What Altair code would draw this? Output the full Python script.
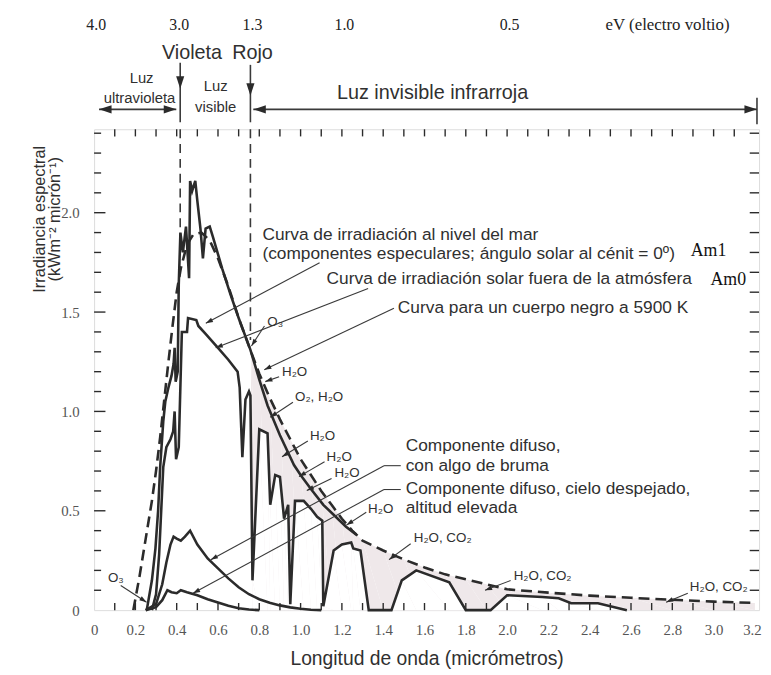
import math
import altair as alt
import pandas as pd

INK = "#2b2b2b"
TXT = "#303030"
SANS = "Liberation Sans, Arial, sans-serif"
SERIF = "Liberation Serif, Times New Roman, serif"

# ---------------- data ----------------
# black body at 5900 K (dashed)
bb_x = [0.19, 0.22, 0.25, 0.28, 0.30, 0.32, 0.34, 0.36, 0.38, 0.40, 0.42, 0.45, 0.48, 0.52, 0.56,
        0.60, 0.65, 0.70, 0.76, 0.80, 0.85, 0.90, 0.95, 1.00, 1.05, 1.10, 1.15, 1.20, 1.25, 1.30,
        1.40, 1.50, 1.60, 1.70, 1.80, 1.90, 2.00, 2.20, 2.40, 2.60, 2.80, 3.00, 3.20]
bb_y = [0.0, 0.17, 0.36, 0.55, 0.70, 0.87, 1.06, 1.25, 1.43, 1.60, 1.72, 1.84, 1.89, 1.90, 1.86,
        1.77, 1.63, 1.47, 1.30, 1.19, 1.07, 0.96, 0.86, 0.76, 0.68, 0.60, 0.53, 0.46, 0.40, 0.35,
        0.30, 0.255, 0.215, 0.18, 0.155, 0.13, 0.105, 0.088, 0.073, 0.062, 0.052, 0.043, 0.036]
# irradiance outside the atmosphere (Am0)
am0_x = [0.255, 0.28, 0.297, 0.31, 0.32, 0.335, 0.345, 0.36, 0.375, 0.385, 0.39, 0.395, 0.405, 0.41,
         0.418, 0.43, 0.445, 0.46, 0.465, 0.475, 0.49, 0.50, 0.515, 0.527, 0.54, 0.56, 0.575, 0.62,
         0.66, 0.70, 0.757, 0.80, 0.84, 0.90, 0.968, 1.00, 1.05, 1.11, 1.16, 1.22, 1.27]
am0_y = [0.0, 0.15, 0.31, 0.50, 0.72, 0.95, 1.05, 1.12, 1.18, 1.24, 1.32, 1.15, 1.20, 1.64,
         1.90, 1.80, 1.93, 1.67, 2.16, 2.11, 2.16, 2.06, 1.92, 1.77, 1.92, 1.93, 1.88, 1.72,
         1.59, 1.47, 1.31, 1.16, 1.03, 0.88, 0.73, 0.68, 0.61, 0.53, 0.48, 0.42, 0.38]
# irradiance at sea level (Am1)
am1_x = [0.28, 0.30, 0.315, 0.325, 0.335, 0.35, 0.37, 0.383, 0.39, 0.397, 0.41, 0.425, 0.45, 0.455,
         0.495, 0.505, 0.54, 0.60, 0.65, 0.695, 0.705, 0.718, 0.733, 0.75, 0.757, 0.767, 0.80,
         0.84, 0.853, 0.877, 0.90, 0.92, 0.94, 0.95, 0.973, 1.015, 1.05, 1.08, 1.105, 1.11,
         1.16, 1.20, 1.245, 1.255, 1.29, 1.33, 1.44, 1.49, 1.56, 1.72, 1.80, 1.92, 2.00,
         2.17, 2.25, 2.31, 2.44, 2.58]
am1_y = [0.0, 0.08, 0.28, 0.50, 0.72, 0.82, 0.86, 0.90, 1.00, 0.76, 0.82, 1.40, 1.40, 1.47,
         1.46, 1.43, 1.39, 1.32, 1.26, 1.20, 1.12, 0.77, 1.06, 1.10, 1.08, 0.15, 0.91,
         0.89, 0.53, 0.68, 0.67, 0.46, 0.53, 0.03, 0.55, 0.55, 0.51, 0.47, 0.45, 0.02,
         0.30, 0.33, 0.34, 0.31, 0.30, 0.0, 0.0, 0.15, 0.20, 0.14, 0.0, 0.0, 0.075,
         0.066, 0.06, 0.035, 0.035, 0.0]
# diffuse component, some haze
hazy_x = [0.25, 0.30, 0.33, 0.35, 0.37, 0.385, 0.40, 0.42, 0.44, 0.465, 0.50, 0.55, 0.60, 0.65,
          0.70, 0.75, 0.80, 0.85, 0.90, 0.95, 1.00, 1.05, 1.10]
hazy_y = [0.0, 0.03, 0.13, 0.24, 0.33, 0.37, 0.36, 0.35, 0.37, 0.40, 0.33, 0.26, 0.21, 0.16,
          0.115, 0.08, 0.055, 0.037, 0.024, 0.014, 0.007, 0.002, 0.0]
# diffuse component, clear sky
clear_x = [0.25, 0.30, 0.33, 0.355, 0.375, 0.40, 0.42, 0.45, 0.50, 0.55, 0.60, 0.65, 0.70, 0.75, 0.80]
clear_y = [0.0, 0.015, 0.05, 0.10, 0.09, 0.085, 0.10, 0.09, 0.075, 0.055, 0.038, 0.022, 0.01, 0.003, 0.0]

x_tick_values = [0, 0.2, 0.4, 0.6, 0.8, 1.0, 1.2, 1.4, 1.6, 1.8, 2.0, 2.2, 2.4, 2.6, 2.8, 3.0]
x_last_label = "3.2"
y_tick_values = [0, 0.5, 1.0, 1.5, 2.0]
ev_labels = ["4.0", "3.0", "1.3", "1.0", "0.5"]
ev_at_um = [0.010, 0.412, 0.767, 1.212, 2.012]

# ---------------- layout ----------------
XD = [0, 3.22]
YD = [0, 2.42]
W, H = 672, 486
SX = W / (XD[1] - XD[0])
SY = H / (YD[1] - YD[0])
xs = alt.Scale(domain=XD, nice=False, zero=False)
ys = alt.Scale(domain=YD, nice=False, zero=False)

LABEL_EXPR = "datum.value == 0 ? '0' : format(datum.value, '.1f')"
x_axis = alt.Axis(values=x_tick_values, labelExpr=LABEL_EXPR, ticks=False, domain=False, grid=False,
                  labelFont=SERIF, labelFontSize=15, labelColor="#555", labelPadding=13,
                  labelFlush=False, labelOverlap=False,
                  title="Longitud de onda (micrómetros)", titleFont=SANS, titleFontSize=19.5,
                  titleFontWeight="normal", titleColor=TXT, titlePadding=12)
y_axis = alt.Axis(values=y_tick_values, labelExpr=LABEL_EXPR, ticks=False, domain=False, grid=False,
                  labelFont=SERIF, labelFontSize=15, labelColor="#555", labelPadding=15,
                  labelFlush=False, labelOverlap=False, title="")


def X(f="x"):
    return alt.X(f"{f}:Q", scale=xs, axis=x_axis)


def Y(f="y"):
    return alt.Y(f"{f}:Q", scale=ys, axis=y_axis)


def curve(xv, yv):
    return pd.DataFrame({"x": xv, "y": yv, "i": range(len(xv))})


bb = curve(bb_x, bb_y)
am0 = curve(am0_x, am0_y)
am1 = curve(am1_x, am1_y)
hazy = curve(hazy_x, hazy_y)
clear = curve(clear_x, clear_y)

# shading of absorption bands
shade = alt.Chart(bb[bb.x >= 0.76]).mark_area(color="#efe8ea").encode(x=X(), y=Y(), order="i:Q")
mask = alt.Chart(am1[am1.x >= 0.745]).mark_area(color="white").encode(x=X(), y=Y(), order="i:Q")


def line(df, width=2.6, dash=None):
    kw = dict(color=INK, strokeWidth=width, strokeJoin="miter")
    if dash:
        kw["strokeDash"] = dash
    return alt.Chart(df).mark_line(**kw).encode(x=X(), y=Y(), order="i:Q")


# ---------------- annotations ----------------
seg_rows = []
head_rows = []
SMALL, BIG = 52, 160


def add_poly(pts, head=True, size=SMALL, group="leader"):
    for (x1, y1), (x2, y2) in zip(pts[:-1], pts[1:]):
        seg_rows.append({"x": x1, "y": y1, "x2": x2, "y2": y2, "g": group})
    if head:
        (x1, y1), (x2, y2) = pts[-2], pts[-1]
        dx = (x2 - x1) * SX
        dy = -(y2 - y1) * SY
        ang = (math.degrees(math.atan2(dx, -dy)) + 360) % 360
        head_rows.append({"x": x2, "y": y2, "angle": ang, "size": size})


leaders = [
    [(1.092, 1.748), (0.541, 1.444)],
    [(1.327, 1.618), (0.589, 1.320)],
    [(1.452, 1.519), (0.824, 1.210)],
    [(0.825, 1.430), (0.762, 1.329)],
    [(0.896, 1.175), (0.829, 1.150)],
    [(0.963, 1.046), (0.853, 0.971)],
    [(1.035, 0.851), (0.910, 0.772)],
    [(1.116, 0.747), (0.992, 0.672)],
    [(1.150, 0.662), (1.030, 0.602)],
    [(1.318, 0.493), (1.222, 0.428)],
    [(1.533, 0.334), (1.428, 0.254)],
    [(2.017, 0.149), (1.893, 0.100)],
    [(2.875, 0.085), (2.770, 0.040)],
    [(0.129, 0.124), (0.254, 0.040)],
    [(1.485, 0.727), (1.404, 0.727), (0.565, 0.254)],
    [(1.485, 0.607), (1.404, 0.607), (0.479, 0.085)],
]
for p in leaders:
    add_poly(p)

# top region arrows
add_poly([(0.398, 2.52), (0.024, 2.52)], size=BIG, group="top")
head_rows.append({"x": 0.398, "y": 2.52, "angle": 90, "size": BIG})
add_poly([(3.21, 2.52), (0.771, 2.52)], size=BIG, group="top")
head_rows.append({"x": 3.21, "y": 2.52, "angle": 90, "size": BIG})
head_rows.append({"x": 0.417, "y": 2.624, "angle": 180, "size": BIG})
head_rows.append({"x": 0.757, "y": 2.589, "angle": 180, "size": BIG})

segs = pd.DataFrame(seg_rows)
heads = pd.DataFrame(head_rows)

leader_layer = alt.Chart(segs[segs.g == "leader"]).mark_rule(color="#3a3a3a", strokeWidth=1.1).encode(
    x=X(), y=Y(), x2="x2:Q", y2="y2:Q")
top_arrow_layer = alt.Chart(segs[segs.g == "top"]).mark_rule(color="#3a3a3a", strokeWidth=1.6).encode(
    x=X(), y=Y(), x2="x2:Q", y2="y2:Q")

ARROW = "M0,0L-0.65,2L0.65,2Z"
head_layer = alt.Chart(heads).mark_point(shape=ARROW, filled=True, color=INK, opacity=1, strokeWidth=0).encode(
    x=X(), y=Y(), angle=alt.Angle("angle:Q", scale=None), size=alt.Size("size:Q", scale=None))

vsolid = pd.DataFrame({"x": [0.417, 0.757, 3.21], "y": [2.754, 2.744, 2.579], "y2": [2.455, 2.455, 2.445]})
vdash = pd.DataFrame({"x": [0.417, 0.757], "y": [2.42, 2.42], "y2": [1.882, 1.359]})
vsolid_layer = alt.Chart(vsolid).mark_rule(color="#3a3a3a", strokeWidth=1.6).encode(x=X(), y=Y(), y2="y2:Q")
vdash_layer = alt.Chart(vdash).mark_rule(color="#3a3a3a", strokeWidth=1.6, strokeDash=[9, 6]).encode(
    x=X(), y=Y(), y2="y2:Q")

# inner ticks on all four sides
tick_rows = []
for k in range(1, 32):
    v = round(0.1 * k, 1)
    tick_rows.append({"x": v, "x2": v, "y": 0.0, "y2": 0.036})
    tick_rows.append({"x": v, "x2": v, "y": YD[1], "y2": YD[1] - 0.036})
for k in range(1, 25):
    v = round(0.1 * k, 1)
    ln = 0.055 if k % 5 == 0 else 0.034
    tick_rows.append({"x": 0.0, "x2": ln, "y": v, "y2": v})
    tick_rows.append({"x": XD[1], "x2": XD[1] - 0.045, "y": v, "y2": v})
ticks = pd.DataFrame(tick_rows)
tick_layer = alt.Chart(ticks).mark_rule(color=INK, strokeWidth=1.4).encode(
    x=X(), x2="x2:Q", y=Y(), y2="y2:Q")


def texts(rows, font=SANS, size=14.5, align="left", color=TXT, angle=0, baseline="middle"):
    df = pd.DataFrame(rows, columns=["t", "x", "y"])
    return alt.Chart(df).mark_text(font=font, fontSize=size, align=align, baseline=baseline,
                                   color=color, angle=angle).encode(x=X(), y=Y(), text="t:N")


# last x label at the right edge, kept inside the page
last_label = texts([(x_last_label, 3.233, -0.065)], font=SERIF, size=15, align="right",
                   color="#555", baseline="top")
ev_layer = texts(list(zip(ev_labels, ev_at_um, [2.943] * len(ev_labels))), font=SERIF, size=16,
                 align="center", color="#222")
ev_title = texts([("eV (electro voltio)", 2.477, 2.943)], font=SERIF, size=17, color="#222")
big_labels = texts([("Violeta", 0.474, 2.803), ("Rojo", 0.767, 2.803),
                    ("Luz invisible infrarroja", 1.639, 2.604)], size=20, align="center")
small_top = texts([("Luz", 0.230, 2.679), ("ultravioleta", 0.220, 2.579),
                   ("Luz", 0.589, 2.639), ("visible", 0.589, 2.534)], size=15, align="center")
main_notes = texts([
    ("Curva de irradiación al nivel del mar", 0.815, 1.889),
    ("(componentes especulares; ángulo solar al cénit = 0º)", 0.815, 1.792),
    ("Curva de irradiación solar fuera de la atmósfera", 1.126, 1.668),
    ("Curva para un cuerpo negro a 5900 K", 1.471, 1.519),
    ("Componente difuso,", 1.509, 0.824),
    ("con algo de bruma", 1.509, 0.727),
    ("Componente difuso, cielo despejado,", 1.509, 0.609),
    ("altitud elevada", 1.509, 0.512),
], size=17.5)
am_notes = texts([("Am1", 2.889, 1.807), ("Am0", 2.985, 1.663)], font=SERIF, size=18, color="#111")
gas_notes = texts([
    ("O₃", 0.839, 1.449), ("H₂O", 0.910, 1.200), ("O₂, H₂O", 0.973, 1.071),
    ("H₂O", 1.045, 0.876), ("H₂O", 1.126, 0.772), ("H₂O", 1.164, 0.692),
    ("H₂O", 1.327, 0.508), ("H₂O, CO₂", 1.548, 0.363), ("H₂O, CO₂", 2.032, 0.174),
    ("H₂O, CO₂", 2.885, 0.115), ("O₃", 0.067, 0.164),
], size=13.5)
y_title = texts([("Irradiancia espectral", -0.264, 1.967), ("(kWm⁻² micrón⁻¹)", -0.187, 1.967)],
                size=16.5, align="center", angle=270)

chart = alt.layer(
    shade, mask,
    vdash_layer, vsolid_layer,
    line(bb, 2.6, [11, 6]),
    line(am0), line(am1), line(hazy), line(clear),
    leader_layer, top_arrow_layer, head_layer,
    last_label, ev_layer, ev_title, big_labels, small_top, main_notes, am_notes, gas_notes, y_title,
    tick_layer,
).properties(
    width=W, height=H,
    padding={"left": 87, "top": 119, "right": 4, "bottom": 60},
    autosize=alt.AutoSizeParams(type="none"),
).configure_view(stroke=INK, strokeWidth=2).configure(background="white")

chart.save("out.html", embed_options={"renderer": "svg", "actions": False})
